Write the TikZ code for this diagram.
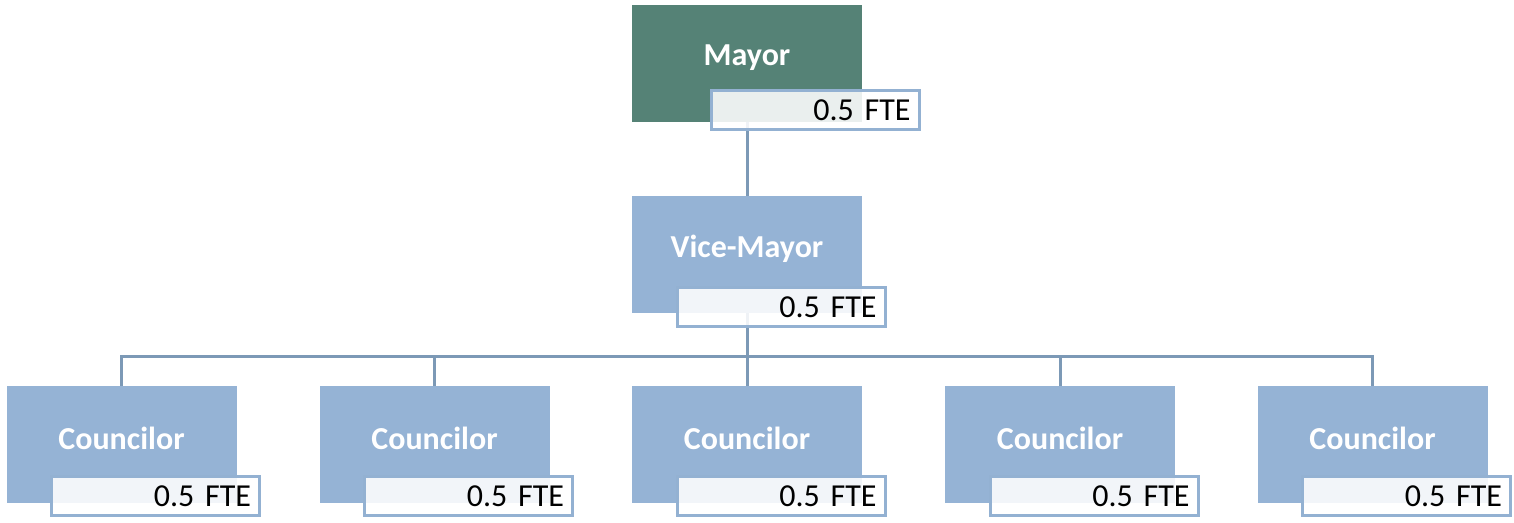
\documentclass[tikz,border=0pt]{standalone}
\usepackage{fontspec}
\setmainfont{Carlito}
\usetikzlibrary{calc, positioning}
\definecolor{mayorGreen}{RGB}{85, 130, 118}
\definecolor{roleBlue}{RGB}{149, 179, 213}
\definecolor{fteBorder}{RGB}{147, 177, 210}
\definecolor{linkBlue}{RGB}{124, 153, 182}

\begin{document}
\begin{tikzpicture} [
        x=0.75pt, y=-0.75pt,
        font=\fontsize{24}{28}\selectfont,
        role/.style={minimum width=172.5pt, minimum height=87.75pt, inner sep=0pt, fill=roleBlue},
        mayor role/.style={role, fill=mayorGreen},
        role title/.style={text=white, font=\fontsize{24}{28}\selectfont\bfseries},
        fte/.style={draw=fteBorder, line width=2.4pt, fill=white, fill opacity=0.88, text opacity=1,
            minimum width=156pt, minimum height=29pt, text width=143pt, align=right, inner xsep=6.5pt, inner ysep=0pt},
        link/.style={draw=linkBlue, line width=2.25pt},
    ]

    \useasboundingbox (0,0) rectangle (1514,523);

    % boxes
    \path node[mayor role] (mayor) at (747,63.5) {};
    \path node[role] (vice) at (747,254.5) {};
    \foreach \i/\x in {1/121.5, 2/434.5, 3/747, 4/1060, 5/1372.5} {
        \path node[role] (c\i) at (\x,444.5) {};
    }

    % connectors
    \draw[link] (mayor.south) -- (vice.north);
    \foreach \i in {1,...,5} {
        \draw[link] (vice.south) -- ++(0,43) -| (c\i.north);
    }

    % titles
    \path (mayor.center) node[role title, yshift=4.5pt] {Mayor};
    \path (vice.center) node[role title, yshift=4.5pt] {Vice-Mayor};
    \foreach \i in {1,...,5} {
        \path (c\i.center) node[role title, yshift=4.5pt] {Councilor};
    }

    % FTE labels
    \path ($ (mayor.south east) + (58.5,8.5) $) node[fte, anchor=south east] (mayor fte) {0.5 FTE};
    \path ($ (vice.south east) + (24.5,14.5) $) node[fte, anchor=south east] (vice fte) {0.5 FTE};
    \foreach \i in {1,...,5} {
        \path ($ (c\i.south east) + (24.5,13.5) $) node[fte, anchor=south east] (c\i fte) {0.5 FTE};
    }

\end{tikzpicture}
\end{document}
